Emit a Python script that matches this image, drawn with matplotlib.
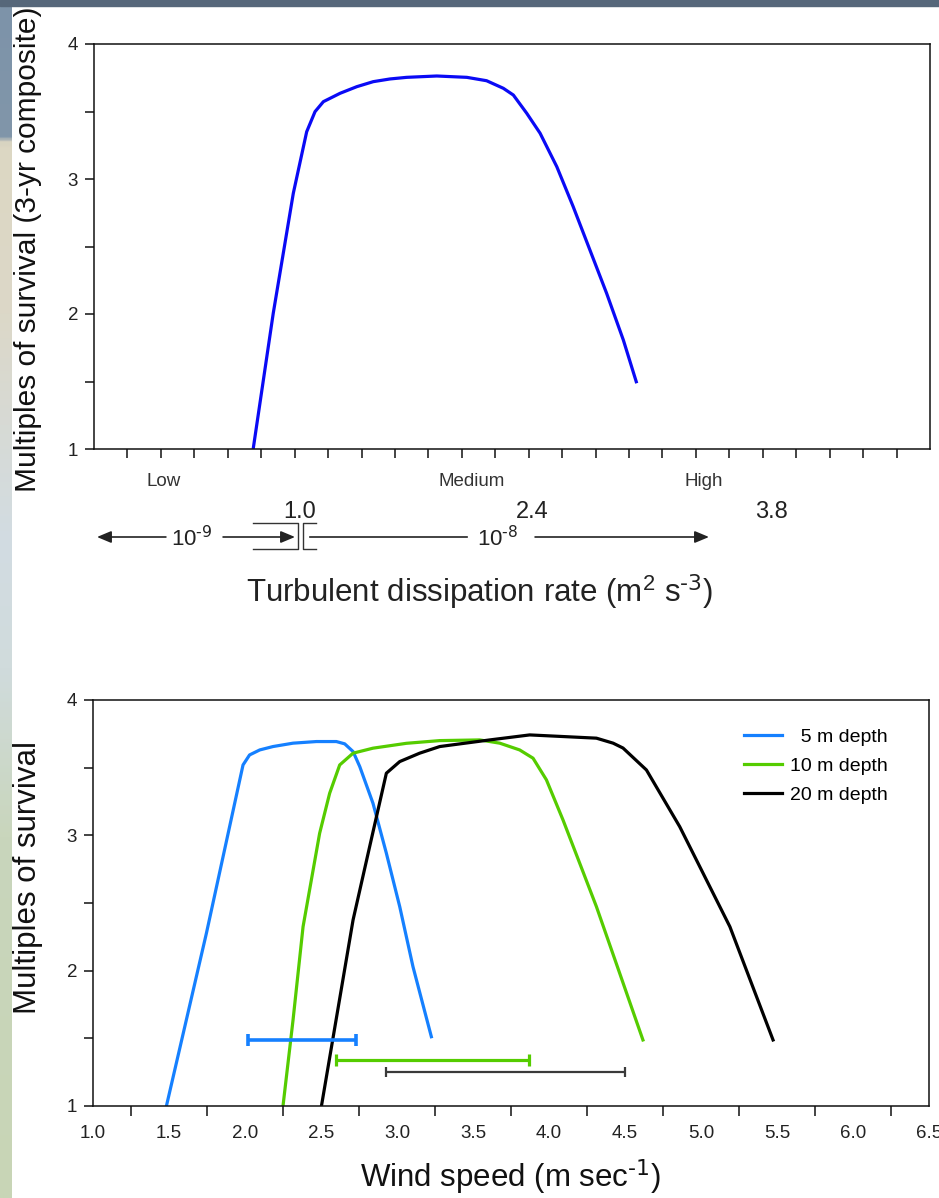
import numpy as np
import matplotlib
matplotlib.use('Agg')
import matplotlib.pyplot as plt
from matplotlib.transforms import blended_transform_factory
from matplotlib.colors import LinearSegmentedColormap
from matplotlib.patches import Rectangle

plt.rcParams['font.family'] = ['Liberation Sans', 'DejaVu Sans']
plt.rcParams['mathtext.default'] = 'regular'

# ---------------- data: top panel (turbulence) ----------------
turb_x = [4.76, 5.36, 5.96, 6.36, 6.61, 6.86, 7.36, 7.86, 8.35, 8.85, 9.35, 10.25,
          11.15, 11.74, 12.24, 12.54, 12.94, 13.34, 13.84, 14.33, 14.83, 15.33,
          15.83, 16.23]
turb_y = [1.0, 2.005, 2.894, 3.35, 3.499, 3.573, 3.635, 3.684, 3.721, 3.741, 3.753,
          3.763, 3.753, 3.728, 3.672, 3.622, 3.487, 3.339, 3.091, 2.795, 2.474,
          2.153, 1.807, 1.487]
turb_cat_labels = ['Low', 'Medium', 'High']
turb_cat_pos = [2.07, 11.3, 18.24]
turb_val_labels = ['1.0', '2.4', '3.8']
turb_val_pos = [6.16, 13.1, 20.25]

# ---------------- data: bottom panel (wind speed) ----------------
wind5_x = [1.483, 1.746, 1.987, 2.03, 2.097, 2.184, 2.316, 2.47, 2.601, 2.656,
           2.711, 2.755, 2.842, 2.930, 3.018, 3.105, 3.226]
wind5_y = [1.0, 2.276, 3.52, 3.594, 3.631, 3.656, 3.681, 3.693, 3.693, 3.676,
           3.619, 3.508, 3.237, 2.868, 2.473, 2.03, 1.512]
wind10_x = [2.25, 2.316, 2.382, 2.491, 2.557, 2.623, 2.711, 2.842, 3.062, 3.281,
            3.544, 3.676, 3.807, 3.895, 3.983, 4.092, 4.202, 4.312, 4.465, 4.618]
wind10_y = [1.0, 1.635, 2.325, 3.015, 3.311, 3.52, 3.607, 3.644, 3.68, 3.70,
            3.705, 3.681, 3.631, 3.57, 3.41, 3.114, 2.794, 2.473, 1.981, 1.488]
wind20_x = [2.503, 2.711, 2.820, 2.93, 3.018, 3.149, 3.281, 3.61, 3.873, 4.312,
            4.422, 4.487, 4.641, 4.86, 5.19, 5.474]
wind20_y = [1.0, 2.375, 2.916, 3.459, 3.545, 3.607, 3.656, 3.705, 3.742, 3.718,
            3.681, 3.645, 3.483, 3.064, 2.325, 1.488]
series_labels = ['  5 m depth', '10 m depth', '20 m depth']
series_colors = ['#1580ff', '#55cc00', '#000000']

err_low = [2.02, 2.60, 2.93]
err_high = [2.73, 3.87, 4.50]
err_y = [1.49, 1.34, 1.25]
err_colors = ['#1580ff', '#55cc00', '#3a3a3a']

W, H = 939, 1198
fig = plt.figure(figsize=(W / 100, H / 100), dpi=100)
fig.patch.set_facecolor('white')

# slide decoration: left gradient strip and top bar
grad = LinearSegmentedColormap.from_list('slide', [
    (0.0, '#7d93a9'), (0.11, '#8196aa'), (0.118, '#ddd7c3'), (0.26, '#dcd8c8'),
    (0.45, '#d2dce2'), (0.56, '#d0dbdc'), (0.70, '#c9d6bc'), (1.0, '#c8d5b6')])
sax = fig.add_axes([0, 0, 12 / W, 1])
sax.imshow(np.linspace(0, 1, 400).reshape(-1, 1), cmap=grad, aspect='auto',
           extent=[0, 1, 1, 0])
sax.set_axis_off()
fig.add_artist(Rectangle((0, 1 - 6 / H), 1, 6 / H, transform=fig.transFigure,
                         color='#56677a', zorder=5))


def px_ax(l, t, r, b):
    return [l / W, 1 - b / H, (r - l) / W, (b - t) / H]


LABEL_FS = 22.5
TICK_FS = 13.5

# ---------------- top panel ----------------
ax1 = fig.add_axes(px_ax(94, 44, 930, 449))
ax1.plot(turb_x, turb_y, color='#0a0af5', lw=2.3, solid_capstyle='butt')
ax1.set_xlim(0, 25)
ax1.set_ylim(1, 4)
ax1.set_xticks(np.arange(1, 25))
ax1.set_xticklabels([])
ax1.set_yticks([1, 2, 3, 4])
ax1.set_yticks([1.5, 2.5, 3.5], minor=True)
ax1.tick_params(axis='both', which='both', direction='out', length=6.5, width=1.1,
                color='#111111', labelsize=TICK_FS, labelcolor='#222222', pad=5)
for sp in ax1.spines.values():
    sp.set_linewidth(1.1)
    sp.set_color('#111111')
ax1.set_ylabel('Multiples of survival (3-yr composite)', fontsize=21.5,
               color='#111111')
ax1.yaxis.set_label_coords((28 - 94) / 836, (449 - 249) / 405)
ax1.yaxis.label.set_verticalalignment('center')
ax1.set_xlabel(r'Turbulent dissipation rate (m$^{2}$ s$^{\text{-3}}$)',
               fontsize=LABEL_FS, color='#222222')
ax1.xaxis.set_label_coords((480 - 94) / 836, (449 - 602) / 405)
ax1.xaxis.label.set_verticalalignment('baseline')

tr1 = blended_transform_factory(ax1.transData, fig.transFigure)


def fy(py):
    return 1 - py / H


for lab, xp in zip(turb_cat_labels, turb_cat_pos):
    ax1.text(xp, fy(486), lab, transform=tr1, ha='center', va='baseline',
             fontsize=13.5, color='#333333')
for lab, xp in zip(turb_val_labels, turb_val_pos):
    ax1.text(xp, fy(518), lab, transform=tr1, ha='center', va='baseline',
             fontsize=17, color='#222222')

arrow_kw = dict(arrowstyle='-|>,head_length=0.43,head_width=0.18', color='#222222',
                lw=1.2, mutation_scale=20, shrinkA=0, shrinkB=0)
ay = fy(537)
ax1.annotate('', xy=(0.09, ay), xytext=(2.15, ay), xycoords=tr1, textcoords=tr1,
             arrowprops=arrow_kw, annotation_clip=False)
ax1.annotate('', xy=(6.01, ay), xytext=(3.86, ay), xycoords=tr1, textcoords=tr1,
             arrowprops=arrow_kw, annotation_clip=False)
ax1.annotate('', xy=(18.39, ay), xytext=(13.19, ay), xycoords=tr1, textcoords=tr1,
             arrowprops=arrow_kw, annotation_clip=False)
ax1.plot([6.46, 11.15], [ay, ay], transform=tr1, color='#222222', lw=1.2,
         clip_on=False)
# bracket marks around the 1.0 boundary
ax1.plot([4.75, 6.10, 6.10, 4.75], [fy(523), fy(523), fy(549), fy(549)],
         transform=tr1, color='#333333', lw=1.0, clip_on=False)
ax1.plot([6.64, 6.25, 6.25, 6.64], [fy(523), fy(523), fy(549), fy(549)],
         transform=tr1, color='#333333', lw=1.0, clip_on=False)
ax1.text(2.93, fy(546), r'10$^{\text{-9}}$', transform=tr1, ha='center',
         va='baseline', fontsize=16, color='#222222')
ax1.text(12.08, fy(546), r'10$^{\text{-8}}$', transform=tr1, ha='center',
         va='baseline', fontsize=16, color='#222222')

# ---------------- bottom panel ----------------
ax2 = fig.add_axes(px_ax(93, 700, 929, 1106))
lines = []
for xs, ys, c, lab in zip([wind5_x, wind10_x, wind20_x], [wind5_y, wind10_y, wind20_y],
                          series_colors, series_labels):
    ln, = ax2.plot(xs, ys, color=c, lw=2.3, label=lab)
    lines.append(ln)
for lo, hi, yv, c, lw, cs in zip(err_low, err_high, err_y, err_colors,
                                 [2.6, 2.3, 1.6], [4.3, 4.3, 3.6]):
    mid = (lo + hi) / 2
    ax2.errorbar([mid], [yv], xerr=[[mid - lo], [hi - mid]], fmt='none', ecolor=c,
                 elinewidth=lw, capsize=cs, capthick=lw)
ax2.set_xlim(1.0, 6.5)
ax2.set_ylim(1, 4)
ax2.set_xticks(np.arange(1.0, 6.51, 0.5))
ax2.set_xticklabels(['%.1f' % v for v in np.arange(1.0, 6.51, 0.5)])
ax2.set_xticks(np.arange(1.25, 6.3, 0.25), minor=True)
ax2.set_yticks([1, 2, 3, 4])
ax2.set_yticks([1.5, 2.5, 3.5], minor=True)
ax2.tick_params(axis='x', which='major', length=0, pad=14, labelsize=TICK_FS,
                labelcolor='#222222')
ax2.tick_params(axis='x', which='minor', direction='out', length=7, width=1.1,
                color='#111111')
ax2.tick_params(axis='y', which='both', direction='out', length=6.5, width=1.1,
                color='#111111', labelsize=TICK_FS, labelcolor='#222222', pad=5)
for sp in ax2.spines.values():
    sp.set_linewidth(1.1)
    sp.set_color('#111111')
ax2.set_ylabel('Multiples of survival', fontsize=LABEL_FS, color='#111111')
ax2.yaxis.set_label_coords((28 - 93) / 836, (1106 - 877) / 406)
ax2.yaxis.label.set_verticalalignment('center')
ax2.set_xlabel(r'Wind speed (m sec$^{\text{-1}}$)', fontsize=LABEL_FS,
               color='#111111')
ax2.xaxis.set_label_coords((510 - 93) / 836, (1106 - 1187) / 406)
ax2.xaxis.label.set_verticalalignment('baseline')

ax2.legend(handles=lines, loc='upper right', frameon=False, fontsize=14,
           handlelength=2.0, handletextpad=0.4, labelspacing=0.6,
           borderpad=0, borderaxespad=0,
           bbox_to_anchor=((888 - 93) / 836, (1106 - 728) / 406))

fig.savefig('out.png', dpi=100, facecolor=fig.get_facecolor())
